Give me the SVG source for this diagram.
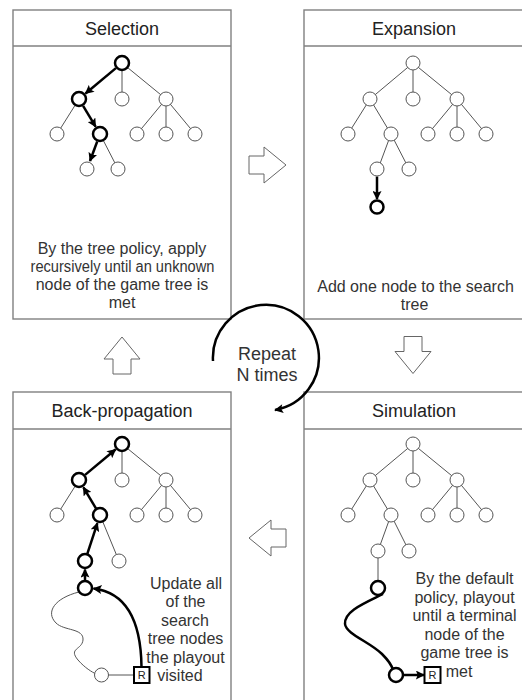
<svg xmlns="http://www.w3.org/2000/svg" width="522" height="700" viewBox="0 0 522 700">
<style>
.box{fill:#fff;stroke:#808080;stroke-width:1.4}
.hdr{stroke:#808080;stroke-width:1.4}
.title{font-family:"Liberation Sans",Arial,sans-serif;font-size:18px;fill:#222;text-anchor:middle}
.body{font-family:"Liberation Sans",Arial,sans-serif;font-size:16px;fill:#333;text-anchor:middle}
.edge{stroke:#555;stroke-width:1;fill:none}
.bold{stroke:#000;stroke-width:2.5;fill:none}
.n{fill:#fff;stroke:#555;stroke-width:1}
.nb{fill:#fff;stroke:#000;stroke-width:2.5}
.blk{fill:#fff;stroke:#666;stroke-width:1}
.rbox{fill:#fff;stroke:#000;stroke-width:2}
.rt{font-family:"Liberation Sans",Arial,sans-serif;font-size:11px;fill:#222;text-anchor:middle}
</style>
<defs>
<marker id="ah" viewBox="0 0 10 10" refX="9" refY="5" markerUnits="userSpaceOnUse" markerWidth="10" markerHeight="9" orient="auto">
<path d="M0,0 L10,5 L0,10 L2,5 z" fill="#000"/>
</marker>
<path id="blockArrow" d="M-18.5,-9 H-3.5 V-18 L18.5,0 L-3.5,18 V9 H-18.5 Z"/>
<g id="baseEdges">
<line x1="122" y1="63" x2="122" y2="99"/>
<line x1="122" y1="63" x2="166" y2="99"/>
<line x1="79" y1="99" x2="57" y2="134"/>
<line x1="166" y1="99" x2="137" y2="134"/>
<line x1="166" y1="99" x2="166" y2="134"/>
<line x1="166" y1="99" x2="195" y2="134"/>
</g>
</defs>

<!-- Selection -->
<g id="selection">
<rect class="box" x="13" y="10" width="218" height="309"/>
<line class="hdr" x1="13" y1="46" x2="231" y2="46"/>
<text class="title" x="122" y="35">Selection</text>
<g class="edge">
<use href="#baseEdges"/>
<line x1="100" y1="134" x2="118" y2="169"/>
</g>
<g class="bold" marker-end="url(#ah)">
<line x1="115.9" y1="68.1" x2="85.5" y2="93.5" marker-end="url(#ah)"/>
<line x1="83.1" y1="105.9" x2="95.6" y2="126.7" marker-end="url(#ah)"/>
<line x1="97.2" y1="141.5" x2="90" y2="161" marker-end="url(#ah)"/>
</g>
<circle class="nb" cx="122" cy="63" r="7"/>
<circle class="nb" cx="79" cy="99" r="7"/>
<circle class="n" cx="122" cy="99" r="7"/>
<circle class="n" cx="166" cy="99" r="7"/>
<circle class="n" cx="57" cy="134" r="7"/>
<circle class="nb" cx="100" cy="134" r="7"/>
<circle class="n" cx="137" cy="134" r="7"/>
<circle class="n" cx="166" cy="134" r="7"/>
<circle class="n" cx="195" cy="134" r="7"/>
<circle class="n" cx="87" cy="169" r="7"/>
<circle class="n" cx="118" cy="169" r="7"/>
<text class="body" x="122" y="254">By the tree policy, apply</text>
<text class="body" x="122.5" y="272" textLength="184" lengthAdjust="spacingAndGlyphs">recursively until an unknown</text>
<text class="body" x="122" y="290">node of the game tree is</text>
<text class="body" x="122" y="308">met</text>
</g>

<!-- Expansion -->
<g id="expansion">
<rect class="box" x="304" y="10" width="220" height="309"/>
<line class="hdr" x1="304" y1="46" x2="524" y2="46"/>
<text class="title" x="414" y="35">Expansion</text>
<g transform="translate(291,0)">
<g class="edge">
<use href="#baseEdges"/>
<line x1="122" y1="63" x2="79" y2="99"/>
<line x1="79" y1="99" x2="100" y2="134"/>
<line x1="100" y1="134" x2="87" y2="169"/>
<line x1="100" y1="134" x2="118" y2="169"/>
</g>
<line class="bold" x1="86" y1="176.5" x2="86" y2="199" marker-end="url(#ah)"/>
<circle class="n" cx="122" cy="63" r="7"/>
<circle class="n" cx="79" cy="99" r="7"/>
<circle class="n" cx="122" cy="99" r="7"/>
<circle class="n" cx="166" cy="99" r="7"/>
<circle class="n" cx="57" cy="134" r="7"/>
<circle class="n" cx="100" cy="134" r="7"/>
<circle class="n" cx="137" cy="134" r="7"/>
<circle class="n" cx="166" cy="134" r="7"/>
<circle class="n" cx="195" cy="134" r="7"/>
<circle class="n" cx="86" cy="169" r="7"/>
<circle class="n" cx="118" cy="169" r="7"/>
<circle class="nb" cx="86" cy="207" r="6.5"/>
</g>
<text class="body" x="415.5" y="291.5">Add one node to the search</text>
<text class="body" x="414.5" y="310">tree</text>
</g>

<!-- Back-propagation -->
<g id="backprop">
<rect class="box" x="13" y="392" width="218" height="320"/>
<line class="hdr" x1="13" y1="429" x2="231" y2="429"/>
<text class="title" x="122" y="416.5">Back-propagation</text>
<g transform="translate(0,381)">
<g class="edge">
<use href="#baseEdges"/>
<line x1="100" y1="134" x2="119" y2="180"/>
<path d="M79,211 C55,217 45,231 56,242 C64,250 84,247 83,259 C82,269 68,267 78,279 C85,287 92,291 96,293"/>
<line x1="101.5" y1="294" x2="134" y2="294"/>
</g>
<g class="bold">
<line x1="85" y1="199.5" x2="85" y2="188.5" marker-end="url(#ah)"/>
<line x1="87.3" y1="172.9" x2="97.4" y2="142.1" marker-end="url(#ah)"/>
<line x1="96.1" y1="127.6" x2="83.4" y2="106.3" marker-end="url(#ah)"/>
<line x1="85.1" y1="93.9" x2="115.5" y2="68.5" marker-end="url(#ah)"/>
<path d="M141.5,286 C141,245 130,212 93.5,207.5" marker-end="url(#ah)"/>
</g>
<circle class="nb" cx="122" cy="63" r="7"/>
<circle class="nb" cx="79" cy="99" r="7"/>
<circle class="n" cx="122" cy="99" r="7"/>
<circle class="n" cx="166" cy="99" r="7"/>
<circle class="n" cx="57" cy="134" r="7"/>
<circle class="nb" cx="100" cy="134" r="7"/>
<circle class="n" cx="137" cy="134" r="7"/>
<circle class="n" cx="166" cy="134" r="7"/>
<circle class="n" cx="195" cy="134" r="7"/>
<circle class="nb" cx="85" cy="180" r="7"/>
<circle class="n" cx="119" cy="180" r="7"/>
<circle class="nb" cx="85" cy="207" r="7"/>
<circle class="n" cx="101.5" cy="294" r="7"/>
<rect class="rbox" x="134" y="286" width="15.5" height="16"/>
<text class="rt" x="141.8" y="298">R</text>
</g>
<text class="body" x="186" y="588.5">Update all</text>
<text class="body" x="185.5" y="607">of the</text>
<text class="body" x="185" y="625.5">search</text>
<text class="body" x="185.5" y="644">tree nodes</text>
<text class="body" x="185.5" y="662.5">the playout</text>
<text class="body" x="180" y="681">visited</text>
</g>

<!-- Simulation -->
<g id="simulation">
<rect class="box" x="304" y="392" width="220" height="320"/>
<line class="hdr" x1="304" y1="429" x2="524" y2="429"/>
<text class="title" x="414" y="416.5">Simulation</text>
<g transform="translate(291,381)">
<g class="edge">
<use href="#baseEdges"/>
<line x1="122" y1="63" x2="79" y2="99"/>
<line x1="79" y1="99" x2="100" y2="134"/>
<line x1="100" y1="134" x2="87" y2="170"/>
<line x1="100" y1="134" x2="118" y2="170"/>
<line x1="87" y1="170" x2="87" y2="207"/>
</g>
<g class="bold">
<path d="M92,213 C74,222 53,230 54,243 C55,253 79,261 91,273 C98,280 101,285 102,289"/>
<line x1="112" y1="294" x2="133" y2="294" marker-end="url(#ah)"/>
</g>
<circle class="n" cx="122" cy="63" r="7"/>
<circle class="n" cx="79" cy="99" r="7"/>
<circle class="n" cx="122" cy="99" r="7"/>
<circle class="n" cx="166" cy="99" r="7"/>
<circle class="n" cx="57" cy="134" r="7"/>
<circle class="n" cx="100" cy="134" r="7"/>
<circle class="n" cx="137" cy="134" r="7"/>
<circle class="n" cx="166" cy="134" r="7"/>
<circle class="n" cx="195" cy="134" r="7"/>
<circle class="n" cx="87" cy="170" r="7"/>
<circle class="n" cx="118" cy="170" r="7"/>
<circle class="nb" cx="87" cy="207" r="7"/>
<circle class="nb" cx="105" cy="294" r="7"/>
<rect class="rbox" x="133.5" y="286" width="16" height="16"/>
<text class="rt" x="141.5" y="298">R</text>
</g>
<text class="body" x="464.5" y="584">By the default</text>
<text class="body" x="464.5" y="602.5">policy, playout</text>
<text class="body" x="464.5" y="621">until a terminal</text>
<text class="body" x="464.5" y="639.5">node of the</text>
<text class="body" x="464.5" y="658">game tree is</text>
<text class="body" x="459" y="676.5">met</text>
</g>

<!-- Transition arrows -->
<g id="connectors">
<use href="#blockArrow" class="blk" transform="translate(267.5,165)"/>
<use href="#blockArrow" class="blk" transform="translate(413,355) rotate(90)"/>
<use href="#blockArrow" class="blk" transform="translate(267.5,538) rotate(180)"/>
<use href="#blockArrow" class="blk" transform="translate(122,355.5) rotate(-90)"/>
<path d="M213,361 A53,53 0 1 1 275,410" fill="none" stroke="#000" stroke-width="2.5" marker-end="url(#ah)"/>
</g>
<g id="repeat">
<text class="title" x="267" y="359.5" style="fill:#333">Repeat</text>
<text class="title" x="267" y="380.5" style="fill:#333">N times</text>
</g>
</svg>
